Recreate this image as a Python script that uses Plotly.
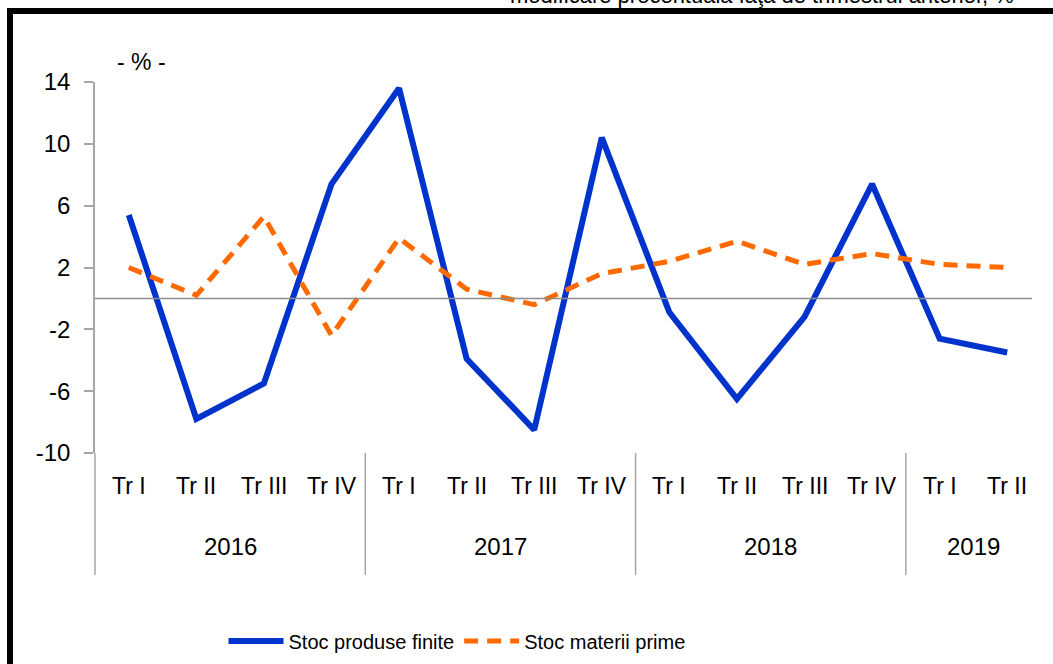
import plotly.graph_objects as go

# ---- data ----
years = ["2016", "2017", "2018", "2019"]
quarters = ["Tr I", "Tr II", "Tr III", "Tr IV",
            "Tr I", "Tr II", "Tr III", "Tr IV",
            "Tr I", "Tr II", "Tr III", "Tr IV",
            "Tr I", "Tr II"]
quarter_year = ["2016"] * 4 + ["2017"] * 4 + ["2018"] * 4 + ["2019"] * 2
produse_finite = [5.4, -7.8, -5.5, 7.4, 13.6, -3.9, -8.5, 10.4,
                  -0.9, -6.5, -1.2, 7.4, -2.6, -3.5]
materii_prime = [2.0, 0.2, 5.3, -2.4, 3.9, 0.6, -0.4, 1.6,
                 2.4, 3.7, 2.2, 2.9, 2.2, 2.0]
y_ticks = [-10, -6, -2, 2, 6, 10, 14]
y_ticklabels = ["-10", "-6", "-2", "2", "6", "10", "14"]
title_text = "modificare procentuală faţă de trimestrul anterior, %"
unit_text = "- % -"

# ---- layout geometry (pixels) ----
W, H = 1053, 664
L, R = 95, 1041
T, B = 82, 453
x_idx = list(range(len(quarters)))

def px(p):
    return (p - L) / (R - L)

def py(p):
    return (B - p) / (B - T)

FONT = "Arial, Liberation Sans, sans-serif"
GRAY = "#a6a6a6"

fig = go.Figure()
fig.add_trace(go.Scatter(
    x=x_idx, y=produse_finite, mode="lines", name="Stoc produse finite",
    line=dict(color="#0033cc", width=6)))
fig.add_trace(go.Scatter(
    x=x_idx, y=materii_prime, mode="lines", name="Stoc materii prime",
    line=dict(color="#ff6a00", width=5, dash="14px,9px")))

shapes = []
# zero line
shapes.append(dict(type="line", xref="paper", yref="y", x0=0, x1=px(1032),
                   y0=0, y1=0, line=dict(color="#8c8c8c", width=1.5)))
# left axis extension down through category labels
shapes.append(dict(type="line", xref="paper", yref="paper", x0=0, x1=0,
                   y0=py(453), y1=py(575), line=dict(color=GRAY, width=1.5)))
# year separators
start = 0
for yr in years[:-1]:
    n = quarter_year.count(yr)
    start += n
    shapes.append(dict(type="line", xref="x", yref="paper",
                       x0=start - 0.5, x1=start - 0.5,
                       y0=py(453), y1=py(575), line=dict(color=GRAY, width=1.5)))
# outer frame (top and left thick black borders)
shapes.append(dict(type="rect", xref="paper", yref="paper",
                   x0=px(7), x1=px(1060), y0=py(14), y1=py(8),
                   fillcolor="black", line=dict(width=0)))
shapes.append(dict(type="rect", xref="paper", yref="paper",
                   x0=px(7), x1=px(13), y0=py(670), y1=py(8),
                   fillcolor="black", line=dict(width=0)))

annotations = []
for i, q in enumerate(quarters):
    annotations.append(dict(x=i, xref="x", y=py(486), yref="paper", text=q,
                            showarrow=False, font=dict(size=23, color="black", family=FONT),
                            xanchor="center", yanchor="middle"))
start = 0
for yr in years:
    n = quarter_year.count(yr)
    annotations.append(dict(x=start + (n - 1) / 2, xref="x", y=py(546), yref="paper",
                            text=yr, showarrow=False,
                            font=dict(size=24, color="black", family=FONT),
                            xanchor="center", yanchor="middle"))
    start += n
annotations.append(dict(x=px(141), xref="paper", y=py(62), yref="paper", text=unit_text,
                        showarrow=False, font=dict(size=23, color="black", family=FONT),
                        xanchor="center", yanchor="middle"))
annotations.append(dict(x=px(1016), xref="paper", y=py(-5), yref="paper", text=title_text,
                        showarrow=False, font=dict(size=22, color="black", family=FONT),
                        xanchor="right", yanchor="middle"))

fig.update_layout(
    width=W, height=H,
    margin=dict(l=L, r=W - R, t=T, b=H - B, pad=0, autoexpand=False),
    paper_bgcolor="white", plot_bgcolor="white",
    font=dict(family=FONT, color="black"),
    showlegend=True,
    legend=dict(orientation="h", x=px(457), xanchor="center", y=py(641), yanchor="middle",
                font=dict(size=20, color="black", family=FONT), itemwidth=55,
                bgcolor="rgba(0,0,0,0)", tracegroupgap=0),
    xaxis=dict(range=[-0.5, len(quarters) - 0.5], showgrid=False, zeroline=False,
               showline=False, showticklabels=False, ticks="", automargin=False),
    yaxis=dict(range=[-10, 14], tickvals=y_ticks, ticktext=y_ticklabels,
               showgrid=False, zeroline=False, automargin=False,
               showline=True, linecolor=GRAY, linewidth=1.5, ticks="outside",
               ticklen=9, tickwidth=1.5, tickcolor=GRAY, ticklabelstandoff=9,
               tickfont=dict(size=24, color="black", family=FONT)),
    shapes=shapes, annotations=annotations,
)

fig.write_html("out.html", config={"displayModeBar": False},
               post_script="document.body.style.margin='0';document.body.style.padding='0';")
